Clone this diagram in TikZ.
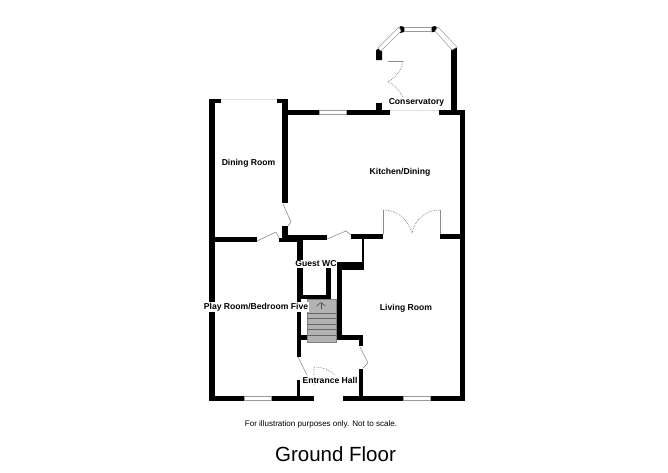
\documentclass[tikz,border=0pt]{standalone}
\usepackage{fontspec}
\setmainfont{Liberation Sans}
\usetikzlibrary{arrows.meta}
\tikzset{
  wall/.style={fill=black},
  window/.style={draw=black!40,fill=white,line width=0.5pt},
  door/.style={draw=black!45,line width=0.6pt},
  dotdoor/.style={draw=black!50,line width=0.7pt,densely dotted},
  roomlabel/.style={font=\bfseries\fontsize{8.6}{10}\selectfont,fill=white,inner sep=0.6pt},
}
\begin{document}
\begin{tikzpicture}[x=1pt,y=-1pt]
\useasboundingbox (0,0) rectangle (668,472);

% stairs
\draw[fill=black!30,draw=black!50,line width=0.5pt] (307,299) rectangle (336,342);
\foreach \y in {313,318.5,324,329.5,335}
  \draw[black!60,line width=1pt] (307,\y) -- (336,\y);
\node[inner sep=0pt] (stairtop) at (321,310) {};
\node[inner sep=0pt] (stairtip) at (321,301.5) {};
\draw[-{Straight Barb[length=3.5pt,width=9pt]},black!70,line width=0.5pt] (stairtop) -- (stairtip);

% outer walls
\fill[wall] (209,99) rectangle (215,401);
\fill[wall] (209,99) rectangle (221,103);
\fill[wall] (277,99) rectangle (288,103);
\fill[wall] (282,99) rectangle (288,203);
\fill[wall] (209,396) rectangle (314,401);
\fill[wall] (343,396) rectangle (465,401);
\fill[wall] (460,110) rectangle (465,401);
\fill[wall] (288,110) rectangle (390,115);
\fill[wall] (439,110) rectangle (465,115);

% conservatory
\fill[wall] (376,103) rectangle (382,110);
\fill[wall] (451,48) rectangle (457,110);
\fill[wall] (376,50) -- (380,48) -- (382,51) -- (382,60) -- (376,60) -- cycle;
\fill[wall] (397,29) -- (401,26) -- (404,27) -- (404,32) -- (400,33) -- cycle;
\fill[wall] (431,27) -- (435,26) -- (438,29) -- (434,32) -- (431,32) -- cycle;
\draw[window] (378,48) -- (399,27) -- (401,31) -- (381,51) -- cycle;
\draw[window] (404,27) -- (431,27) -- (431,31) -- (404,31) -- cycle;
\draw[window] (438,27) -- (457,47) -- (452,50) -- (435,31) -- cycle;

% inner walls
\fill[wall] (282,226) rectangle (288,238);
\fill[wall] (215,237) rectangle (257,242);
\fill[wall] (279,238) rectangle (303,242);
\fill[wall] (282,235) rectangle (327,240);
\fill[wall] (351,234) rectangle (383,239);
\fill[wall] (440,234) rectangle (460,239);
\fill[wall] (297,240) rectangle (303,295);
\fill[wall] (297,295) rectangle (331,299);
\fill[wall] (326,268) rectangle (331,295);
\fill[wall] (362,239) rectangle (364,262);
\fill[wall] (338,262) rectangle (364,270);
\fill[wall] (337,262) rectangle (342,335);
\fill[wall] (337,335) rectangle (363,340);
\fill[wall] (359,335) rectangle (363,346);
\fill[wall] (297,299) rectangle (301,357);
\fill[wall] (297,335) rectangle (307,340);
\fill[wall] (297,380) rectangle (300,397);
\fill[wall] (359,369) rectangle (363,397);

% windows
\draw[window] (319,110.5) rectangle (346,114.5);
\draw[window] (244,396.5) rectangle (271,400.5);
\draw[window] (403,396.5) rectangle (430,400.5);
\draw[black!12,line width=0.6pt] (221,99.5) -- (277,99.5);
\draw[black!12,line width=0.6pt] (390,110.5) -- (439,110.5);

% doors
\draw[door] (283,204) -- (291,222) -- (288,226);
\draw[door] (257,241) -- (276,232) -- (279,238);
\draw[door] (327,239) -- (346,231) -- (351,235);
\draw[door] (298,357) -- (307,375);
\draw[door] (360,347) -- (368,363) -- (363,368);
\draw[door] (383,234) -- (383,210);
\draw[door] (440,234) -- (440,210);
\draw[door] (388,61) -- (403,61);
\draw[dotdoor] (383,210) .. controls (398,210) and (408,220) .. (412,233);
\draw[dotdoor] (440,210) .. controls (425,210) and (415,220) .. (412,233);
\draw[dotdoor] (403,61) .. controls (402,70) and (396,77) .. (388,82);
\draw[dotdoor] (388,82) .. controls (396,86) and (401,92) .. (403,98);
\draw[dotdoor] (314,385) -- (314,367) .. controls (322,367) and (330,370) .. (335,375);

% labels
\node[roomlabel] (dining) at (248.5,163) {Dining Room};
\node[roomlabel] (kitchen) at (400,172) {Kitchen/Dining};
\node[roomlabel] (conservatory) at (416.5,102.5) {Conservatory};
\node[roomlabel] (guestwc) at (316,264) {Guest WC};
\node[roomlabel] (playroom) at (256,307) {Play Room/Bedroom Five};
\node[roomlabel] (living) at (406,308) {Living Room};
\node[roomlabel] (entrance) at (330,380) {Entrance Hall};
\node[font=\fontsize{8.05}{10}\selectfont] (caption) at (321,424) {For illustration purposes only. Not to scale.};
\node[font=\fontsize{20.5}{24}\selectfont] (title) at (335.5,454) {Ground Floor};
\end{tikzpicture}
\end{document}
